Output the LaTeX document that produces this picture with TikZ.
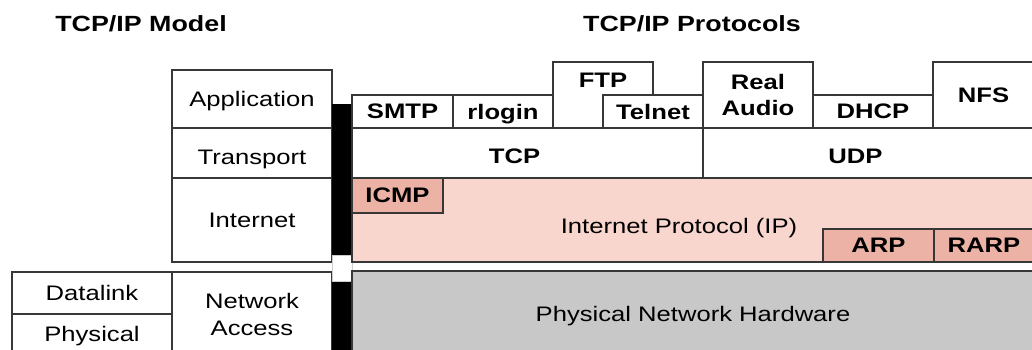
\documentclass[tikz,border=0pt]{standalone}
\usepackage{fontspec}
\setmainfont{Liberation Sans}[FakeStretch=1.22]

\definecolor{edge}{RGB}{55,55,55}
\definecolor{ippink}{RGB}{248,214,205}
\definecolor{iprose}{RGB}{236,178,166}
\definecolor{hwgray}{RGB}{200,200,200}

\tikzset{
  txt/.style={font=\fontsize{21}{27}\selectfont, text depth=0pt},
  ptxt/.style={font=\bfseries\fontsize{21}{26}\selectfont, text depth=0pt},
  cell/.style={rectangle, draw=edge, line width=1.3pt, fill=white,
    anchor=north west, inner sep=0pt, outer sep=0pt, align=center, txt},
  proto/.style={cell, ptxt},
  heading/.style={font=\bfseries\fontsize{22}{26}\selectfont},
  sz/.style 2 args={minimum width=#1pt, minimum height=#2pt},
}

\begin{document}
\begin{tikzpicture}[x=1pt, y=-1pt]
  \clip (0,0) rectangle (1032,349);

  \node[heading] (modeltitle) at (141,24) {TCP/IP Model};
  \node[heading] (prototitle) at (692,24) {TCP/IP Protocols};

  % model column
  \node[cell, sz={160}{58}] (app) at (172,70) {Application};
  \node[cell, sz={160}{50}, label={[txt, yshift=-4pt]center:Transport}] (trans) at (172,128) {};
  \node[cell, sz={160}{84}] (inet) at (172,178) {Internet};
  \node[cell, sz={160}{84}] (netacc) at (172,272) {Network\\Access};
  \node[cell, sz={160}{42}] (dlink) at (12,272) {Datalink};
  \node[cell, sz={160}{40}] (phys) at (12,314) {Physical};

  % separator bars
  \fill[black] (332,104) rectangle (352,255);
  \fill[black] (332,281) rectangle (352,356);
  \draw[gray!40, line width=0.8pt] (332,255) rectangle (352,281);

  % hardware and internet layer
  \node[cell, fill=hwgray, sz={682}{85}] (hw) at (352,271) {Physical Network Hardware};
  \node[cell, fill=ippink, sz={682}{84},
    label={[txt, xshift=-14pt, yshift=-6pt]center:Internet Protocol (IP)}] (ip) at (352,178) {};
  \node[proto, fill=iprose, sz={91}{35}] (icmp) at (352,178) {ICMP};
  \node[proto, fill=iprose, sz={111}{33}] (arp) at (823,229) {ARP};
  \node[proto, fill=iprose, sz={100}{33}] (rarp) at (934,229) {RARP};

  % transport layer
  \node[proto, sz={351}{50}, label={[ptxt, xshift=-13pt, yshift=-3pt]center:TCP}] (tcp) at (352,128) {};
  \node[proto, sz={331}{50}, label={[ptxt, xshift=-13pt, yshift=-3pt]center:UDP}] (udp) at (703,128) {};

  % application layer
  \node[proto, sz={101}{33}] (smtp) at (352,95) {SMTP};
  \node[proto, sz={100}{33}] (rlogin) at (453,95) {rlogin};
  \node[proto, sz={100}{66}, label={[ptxt, anchor=center, yshift=-18pt]north:FTP}] (ftp) at (553,62) {};
  \node[proto, sz={100}{33}] (telnet) at (603,95) {Telnet};
  \node[proto, sz={110}{66}] (audio) at (703,62) {Real\\Audio};
  \node[proto, sz={120}{33}] (dhcp) at (813,95) {DHCP};
  \node[proto, sz={101}{66}] (nfs) at (933,62) {NFS};
\end{tikzpicture}
\end{document}
